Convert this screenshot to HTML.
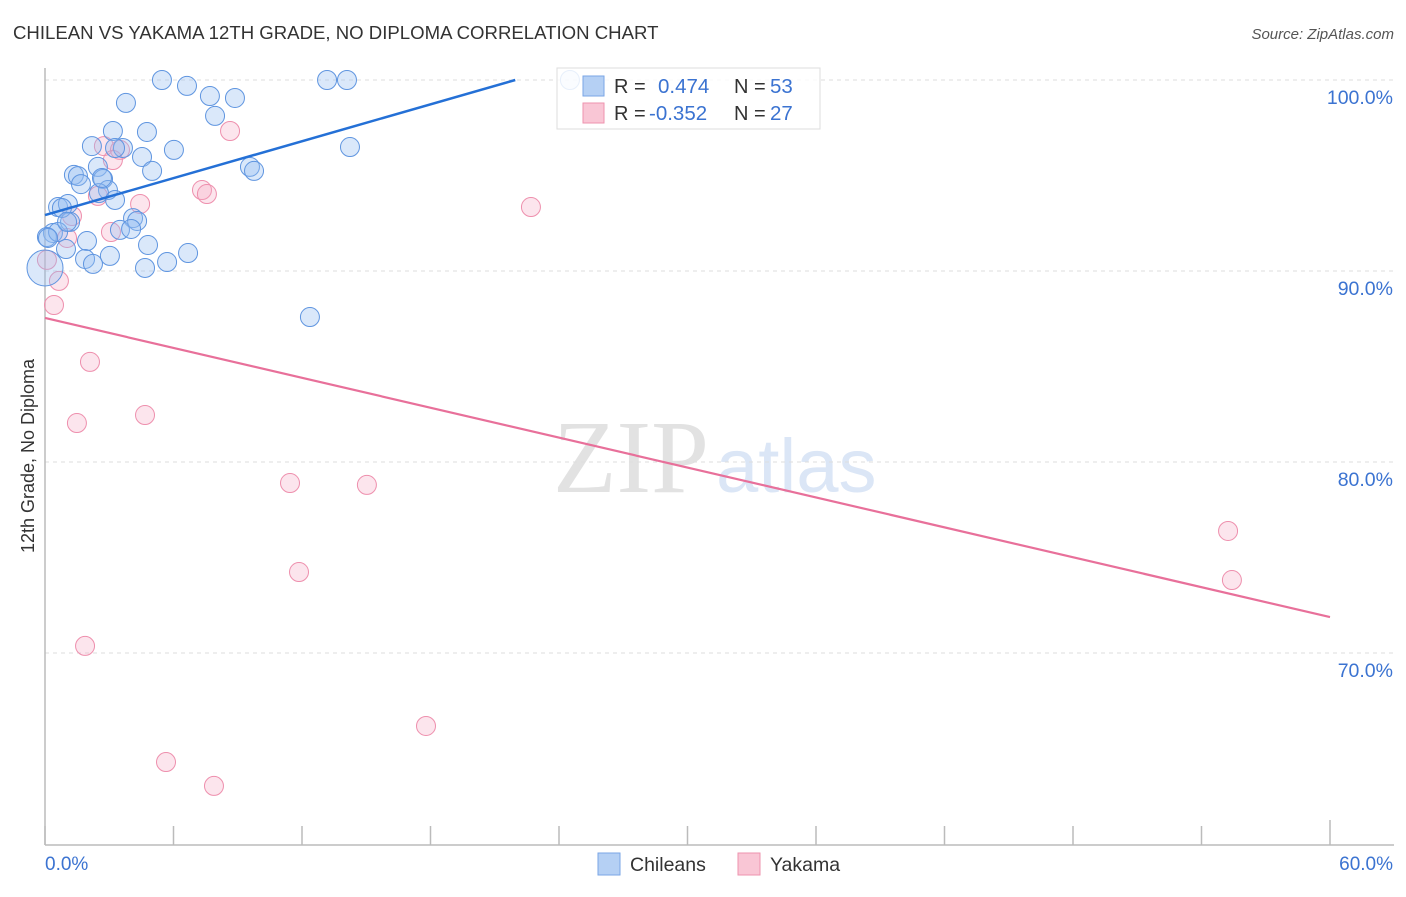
<!DOCTYPE html>
<html><head><meta charset="utf-8"><style>
body{margin:0;background:#fff;width:1406px;height:892px;overflow:hidden;font-family:"Liberation Sans",sans-serif}
</style></head><body>
<svg id="chart" width="1406" height="892" xmlns="http://www.w3.org/2000/svg">
<text x="13" y="39" font-size="18.6" fill="#333" font-family="Liberation Sans, sans-serif">CHILEAN VS YAKAMA 12TH GRADE, NO DIPLOMA CORRELATION CHART</text>
<text x="1394" y="39" font-size="15" fill="#555" font-style="italic" text-anchor="end">Source: ZipAtlas.com</text>
<g>
<text x="553" y="492" font-size="104" fill="#e2e2e2" font-family="Liberation Serif, serif">ZIP</text>
<text x="716" y="492" font-size="76" fill="#dbe6f6" font-family="Liberation Sans, sans-serif">atlas</text>
</g>
<g id="grid"></g>
<g id="axes"></g>
<g id="marks"></g>
<text transform="translate(34,456) rotate(-90)" font-size="18" fill="#333" text-anchor="middle">12th Grade, No Diploma</text>
<g>
<rect x="557" y="68" width="263" height="61" fill="#fff" fill-opacity="0.85" stroke="#ddd"/>
<rect x="583" y="76" width="21" height="20" fill="#b5d0f4" stroke="#7aa6e6"/>
<rect x="583" y="103" width="21" height="20" fill="#f9c6d5" stroke="#ee93ae"/>
<text x="614" y="93" font-size="20" fill="#333">R = </text>
<text x="658" y="93" font-size="20.5" fill="#3b73d1">0.474</text>
<text x="734" y="93" font-size="20" fill="#333">N = </text>
<text x="770" y="93" font-size="20.5" fill="#3b73d1">53</text>
<text x="614" y="120" font-size="20" fill="#333">R = </text>
<text x="649" y="120" font-size="20.5" fill="#3b73d1">-0.352</text>
<text x="734" y="120" font-size="20" fill="#333">N = </text>
<text x="770" y="120" font-size="20.5" fill="#3b73d1">27</text>
</g>
<g>
<rect x="598" y="853" width="22" height="22" fill="#b5d0f4" stroke="#7aa6e6"/>
<text x="630" y="871" font-size="19.5" fill="#333">Chileans</text>
<rect x="738" y="853" width="22" height="22" fill="#f9c6d5" stroke="#ee93ae"/>
<text x="770" y="871" font-size="19.5" fill="#333">Yakama</text>
</g>
</svg>
<script>
const blueX=[5.46,6.63,7.70,8.87,3.78,7.94,13.17,14.10,24.51,3.17,4.76,2.19,3.64,14.24,4.53,6.02,2.47,5.00,9.57,9.76,1.35,1.54,2.71,1.68,2.94,2.52,3.27,0.61,1.07,1.17,4.11,4.30,3.50,4.02,0.37,0.09,0.61,1.96,4.81,0.98,3.03,1.87,2.24,4.67,5.70,6.68,12.37,0.0,2.66,0.79,0.14,3.27,1.03];
const blueY=[100,99.69,99.16,99.06,98.80,98.12,100,100,100,97.33,97.28,96.54,96.44,96.49,95.97,96.34,95.45,95.24,95.45,95.24,95.03,94.97,94.82,94.55,94.24,94.08,93.72,93.35,93.51,92.57,92.77,92.62,92.15,92.20,91.99,91.78,92.04,91.57,91.36,91.15,90.79,90.63,90.37,90.16,90.47,90.94,87.59,90.16,94.87,93.30,91.73,96.44,92.57];
const pinkX=[2.75,3.50,3.17,8.64,7.33,7.56,2.47,4.44,22.69,1.26,1.03,3.08,0.09,0.65,0.42,2.10,4.67,1.49,11.44,15.03,11.86,1.87,5.65,7.89,17.79,55.24,55.42];
const pinkY=[96.54,96.34,95.81,97.33,94.24,94.03,93.93,93.51,93.35,92.88,91.73,92.04,90.58,89.48,88.22,85.24,82.46,82.04,78.90,78.80,74.24,70.37,64.29,63.04,66.18,76.39,73.82];
const blueTrend=[92.93,0.322];   // intercept, slope
const pinkTrend=[87.54,-0.261];
const yTicks=[100,90,80,70];
const yTickLabels=["100.0%","90.0%","80.0%","70.0%"];
const xTickVals=[0,6,12,18,24,30,36,42,48,54,60];

const NS="http://www.w3.org/2000/svg";
const sx=v=>45+v/60*1285;
const sy=v=>80+(100-v)*19.1;
function mk(tag,attrs,parent){const e=document.createElementNS(NS,tag);for(const k in attrs)e.setAttribute(k,attrs[k]);parent.appendChild(e);return e;}
const grid=document.getElementById('grid'),axes=document.getElementById('axes'),marks=document.getElementById('marks');
yTicks.forEach((t,i)=>{
  const l=mk('line',{x1:45,x2:1393,y1:sy(t),y2:sy(t),stroke:'#ddd','stroke-dasharray':'4,4'},grid);
  
  
  const tx=mk('text',{x:1393,y:sy(t)+24,'font-size':19.5,fill:'#3b73d1','text-anchor':'end'},axes);
  tx.textContent=yTickLabels[i];
  
  
});
const xa=mk('line',{x1:45,x2:1394,y1:845,y2:845,stroke:'#bbb','stroke-width':1.5},axes);


const ya=mk('line',{x1:45,x2:45,y1:68,y2:845,stroke:'#bbb','stroke-width':1.5},axes);


xTickVals.forEach((v,i)=>{
  const t=mk('line',{x1:sx(v),x2:sx(v),y1:(i==xTickVals.length-1?820:826),y2:845,stroke:'#bbb','stroke-width':1.5},axes);
  
  
});
const x0=mk('text',{x:45,y:870,'font-size':19,fill:'#3b73d1'},axes);x0.textContent='0.0%';


const x1=mk('text',{x:1393,y:870,'font-size':19,fill:'#3b73d1','text-anchor':'end'},axes);x1.textContent='60.0%';



pinkX.forEach((x,i)=>{
  const c=mk('circle',{cx:sx(x),cy:sy(pinkY[i]),r:9.5,fill:'rgba(246,170,195,0.3)',stroke:'#ee8fad','stroke-width':1},marks);
  
  
});
blueX.forEach((x,i)=>{
  const c=mk('circle',{cx:sx(x),cy:sy(blueY[i]),r:(i==47?18:9.5),fill:'rgba(150,190,240,0.35)',stroke:'#5f95e0','stroke-width':1},marks);
  
  
});
const bEnd=(100-blueTrend[0])/blueTrend[1];
const bl=mk('line',{x1:sx(0),y1:sy(blueTrend[0]),x2:sx(bEnd),y2:sy(100),stroke:'#2470d6','stroke-width':2.5},marks);


const pl=mk('line',{x1:sx(0),y1:sy(pinkTrend[0]),x2:sx(60),y2:sy(pinkTrend[0]+60*pinkTrend[1]),stroke:'#e8709a','stroke-width':2.2},marks);


</script>
</body></html>
